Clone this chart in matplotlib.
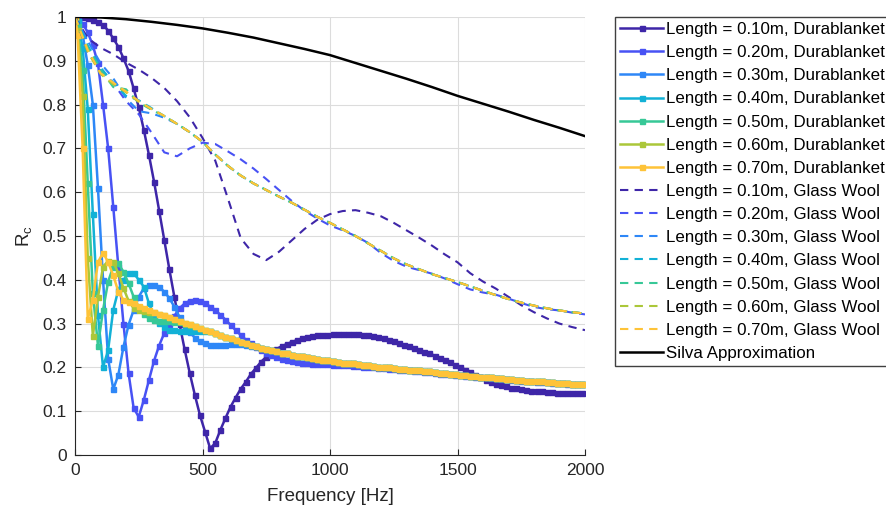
import numpy as np
import matplotlib.pyplot as plt

plt.rcParams['font.family'] = ['Liberation Sans', 'DejaVu Sans']

# frequency grids [Hz]
f_dura = [0] + list(range(10, 2000, 20))
f_gw = list(range(0, 2001, 50))
f_silva = list(range(0, 2001, 100))

# Durablanket (0 Hz, then 10, 30, ... 1990 Hz)
dura_010 = [1.0,
            1.000, 0.999, 0.997, 0.993, 0.988, 0.982, 0.969, 0.951, 0.932, 0.906,
            0.877, 0.837, 0.794, 0.742, 0.685, 0.624, 0.558, 0.491, 0.424, 0.360,
            0.299, 0.241, 0.187, 0.137, 0.091, 0.053, 0.015, 0.027, 0.057, 0.084,
            0.110, 0.131, 0.151, 0.167, 0.185, 0.199, 0.213, 0.224, 0.233, 0.242,
            0.248, 0.253, 0.258, 0.262, 0.266, 0.269, 0.271, 0.273, 0.274, 0.275,
            0.276, 0.277, 0.277, 0.277, 0.277, 0.276, 0.275, 0.273, 0.271, 0.269,
            0.266, 0.263, 0.260, 0.256, 0.252, 0.248, 0.244, 0.240, 0.236, 0.232,
            0.227, 0.222, 0.217, 0.212, 0.206, 0.201, 0.195, 0.189, 0.183, 0.177,
            0.172, 0.167, 0.163, 0.160, 0.157, 0.154, 0.152, 0.150, 0.148, 0.147,
            0.146, 0.145, 0.144, 0.143, 0.142, 0.142, 0.141, 0.141, 0.141, 0.141]

dura_020 = [1.0,
            0.995, 0.985, 0.965, 0.935, 0.894, 0.800, 0.700, 0.567, 0.430, 0.300,
            0.187, 0.107, 0.087, 0.126, 0.171, 0.215, 0.250, 0.278, 0.299, 0.318,
            0.335, 0.346, 0.352, 0.353, 0.351, 0.346, 0.339, 0.331, 0.320, 0.309,
            0.297, 0.285, 0.274, 0.263, 0.255, 0.247, 0.240, 0.234, 0.229, 0.224,
            0.220, 0.217, 0.214, 0.212, 0.210, 0.209, 0.208, 0.208, 0.207, 0.207,
            0.206, 0.206, 0.205, 0.205, 0.204, 0.203, 0.202, 0.201, 0.200, 0.199,
            0.198, 0.197, 0.196, 0.195, 0.194, 0.193, 0.192, 0.191, 0.190, 0.189,
            0.187, 0.186, 0.185, 0.184, 0.183, 0.182, 0.181, 0.180, 0.179, 0.178,
            0.177, 0.176, 0.175, 0.174, 0.173, 0.172, 0.171, 0.170, 0.169, 0.168,
            0.167, 0.167, 0.166, 0.165, 0.164, 0.164, 0.163, 0.162, 0.162, 0.161]

# 0.3 - 0.7 m all lie on the same band above ~700 Hz (710 ... 1990 Hz)
band_tail = [0.248, 0.245, 0.242, 0.239, 0.237,
             0.234, 0.232, 0.229, 0.227, 0.225, 0.223, 0.221, 0.219, 0.217, 0.216,
             0.214, 0.213, 0.211, 0.210, 0.209, 0.208, 0.206, 0.205, 0.204, 0.202,
             0.201, 0.200, 0.199, 0.197, 0.196, 0.195, 0.194, 0.193, 0.192, 0.191,
             0.189, 0.188, 0.187, 0.186, 0.185, 0.183, 0.182, 0.181, 0.180, 0.179,
             0.178, 0.177, 0.176, 0.175, 0.174, 0.173, 0.172, 0.171, 0.170, 0.169,
             0.168, 0.168, 0.167, 0.166, 0.165, 0.165, 0.164, 0.163, 0.163, 0.162]

dura_030 = [1.0,
            0.99, 0.96, 0.89, 0.80, 0.61, 0.40, 0.22, 0.15, 0.183, 0.247,
            0.297, 0.331, 0.361, 0.381, 0.388, 0.388, 0.383, 0.373, 0.358, 0.338,
            0.315, 0.295, 0.280, 0.268, 0.260, 0.255, 0.252, 0.251, 0.251, 0.252,
            0.253, 0.253, 0.253, 0.252, 0.250] + band_tail

dura_040 = [1.0,
            0.99, 0.93, 0.79, 0.55, 0.32, 0.20, 0.24, 0.331, 0.377, 0.400,
            0.415, 0.415, 0.400, 0.384, 0.346, 0.318, 0.302, 0.292, 0.286, 0.285,
            0.284, 0.284, 0.283, 0.283, 0.283, 0.283, 0.282, 0.278, 0.274, 0.270,
            0.266, 0.262, 0.259, 0.255, 0.251] + band_tail

dura_050 = [1.0,
            0.98, 0.88, 0.62, 0.37, 0.25, 0.331, 0.396, 0.430, 0.438, 0.418,
            0.392, 0.361, 0.338, 0.322, 0.312, 0.308, 0.307, 0.306, 0.305, 0.304,
            0.303, 0.300, 0.297, 0.294, 0.290, 0.286, 0.282, 0.278, 0.274, 0.270,
            0.266, 0.262, 0.259, 0.255, 0.251] + band_tail

dura_060 = [1.0,
            0.97, 0.82, 0.45, 0.272, 0.360, 0.430, 0.443, 0.441, 0.415, 0.381,
            0.352, 0.335, 0.331, 0.329, 0.327, 0.327, 0.323, 0.319, 0.315, 0.310,
            0.306, 0.302, 0.298, 0.294, 0.290, 0.286, 0.282, 0.278, 0.274, 0.270,
            0.266, 0.262, 0.259, 0.255, 0.251] + band_tail

dura_070 = [1.0,
            0.96, 0.70, 0.31, 0.355, 0.440, 0.462, 0.440, 0.410, 0.373, 0.354,
            0.350, 0.346, 0.340, 0.336, 0.332, 0.327, 0.323, 0.319, 0.315, 0.310,
            0.306, 0.302, 0.298, 0.294, 0.290, 0.286, 0.282, 0.278, 0.274, 0.270,
            0.266, 0.262, 0.259, 0.255, 0.251] + band_tail

# Glass Wool, every 50 Hz
gw_010 = [1.000, 0.952, 0.930, 0.915, 0.896, 0.880, 0.861, 0.838, 0.808, 0.771,
          0.724, 0.672, 0.585, 0.495, 0.459, 0.445, 0.464, 0.490, 0.516, 0.537,
          0.550, 0.557, 0.559, 0.553, 0.545, 0.530, 0.513, 0.496, 0.478, 0.458,
          0.440, 0.415, 0.396, 0.380, 0.361, 0.342, 0.326, 0.312, 0.300, 0.292,
          0.285]

gw_020 = [1.000, 0.920, 0.878, 0.849, 0.808, 0.778, 0.736, 0.691, 0.682, 0.700,
          0.713, 0.710, 0.693, 0.675, 0.654, 0.630, 0.605, 0.580, 0.558, 0.540,
          0.524, 0.513, 0.500, 0.484, 0.461, 0.443, 0.430, 0.422, 0.414, 0.403,
          0.390, 0.378, 0.371, 0.366, 0.357, 0.347, 0.338, 0.333, 0.330, 0.325,
          0.321]

# 400 ... 2000 Hz, shared by 0.3 - 0.7 m
gw_tail = [0.756, 0.737, 0.715, 0.686, 0.660, 0.638, 0.620, 0.605, 0.590, 0.576,
           0.560, 0.544, 0.530, 0.515, 0.500, 0.483, 0.466, 0.449, 0.435, 0.424,
           0.413, 0.404, 0.395, 0.385, 0.375, 0.365, 0.356, 0.348, 0.341, 0.335,
           0.330, 0.326, 0.323]

gw_030 = [1.0, 0.945, 0.895, 0.860, 0.815, 0.785, 0.780, 0.770] + gw_tail
gw_040 = [1.0, 0.935, 0.885, 0.850, 0.820, 0.810, 0.792, 0.774] + gw_tail
gw_050 = [1.0, 0.930, 0.880, 0.840, 0.835, 0.805, 0.788, 0.774] + gw_tail
gw_060 = [1.0, 0.920, 0.870, 0.846, 0.828, 0.806, 0.790, 0.774] + gw_tail
gw_070 = [1.0, 0.925, 0.872, 0.850, 0.830, 0.808, 0.790, 0.774] + gw_tail

silva = [1.000, 0.999, 0.995, 0.989, 0.982, 0.974, 0.964, 0.953, 0.940, 0.927,
         0.913, 0.895, 0.877, 0.859, 0.840, 0.820, 0.802, 0.784, 0.765, 0.747,
         0.728]

lengths = ['0.10', '0.20', '0.30', '0.40', '0.50', '0.60', '0.70']
dura = [dura_010, dura_020, dura_030, dura_040, dura_050, dura_060, dura_070]
gw = [gw_010, gw_020, gw_030, gw_040, gw_050, gw_060, gw_070]

# parula(7)
colors = ['#3E26A8', '#4852F4', '#2E87F7', '#12B1D6', '#37C897', '#ABC739', '#FEC338']

yticks = [0, 0.1, 0.2, 0.3, 0.4, 0.5, 0.6, 0.7, 0.8, 0.9, 1]
ytick_labels = ['0', '0.1', '0.2', '0.3', '0.4', '0.5', '0.6', '0.7', '0.8', '0.9', '1']
xticks = [0, 500, 1000, 1500, 2000]

fig = plt.figure(figsize=(8.86, 5.08), dpi=100)
ax = fig.add_axes([75 / 886, 53 / 508, 510 / 886, 438 / 508])

for i in range(len(lengths)):
    ax.plot(f_dura, dura[i], '-s', color=colors[i], lw=1.8, ms=3.6,
            label='Length = ' + lengths[i] + 'm, Durablanket')
for i in range(len(lengths)):
    ax.plot(f_gw, gw[i], '--', dashes=(4, 3), color=colors[i], lw=1.5,
            label='Length = ' + lengths[i] + 'm, Glass Wool')
ax.plot(f_silva, silva, '-', color='black', lw=1.8, label='Silva Approximation')

ax.set_xlim(0, 2000)
ax.set_ylim(0, 1)
ax.set_xticks(xticks)
ax.set_yticks(yticks)
ax.set_yticklabels(ytick_labels)
ax.grid(True, color='#dcdcdc', lw=0.8)
ax.set_axisbelow(True)
ax.spines['top'].set_visible(False)
ax.spines['right'].set_visible(False)
ax.spines['left'].set_color('#262626')
ax.spines['bottom'].set_color('#262626')
ax.tick_params(direction='in', length=4, colors='#262626', labelsize=12.5, pad=6)
ax.set_xlabel('Frequency [Hz]', fontsize=13.5, color='#262626', labelpad=7)
ax.set_ylabel(r'$\mathregular{R_c}$', fontsize=13.5, color='#262626', labelpad=6)

# the legend runs past the right edge of the figure, as in the original
ax.legend(loc='upper left', bbox_to_anchor=(615 / 886, 491 / 508),
          bbox_transform=fig.transFigure, fontsize=12.2, frameon=True,
          fancybox=False, edgecolor='#404040', framealpha=1,
          handlelength=2.55, handletextpad=0.18, labelspacing=0.48,
          borderpad=0.3, borderaxespad=0)

plt.savefig('out.png', dpi=100)
